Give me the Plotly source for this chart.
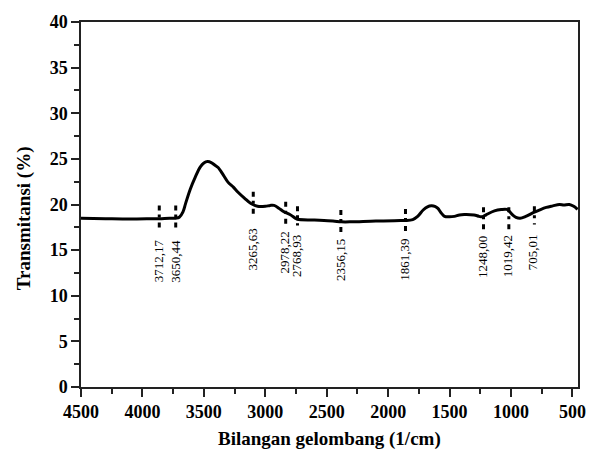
import plotly.graph_objects as go

# FTIR spectrum (wavenumber in 1/cm, transmittance in %)
wavenumber = [4500, 4300, 4100, 3900, 3860, 3780, 3728, 3700, 3670, 3649, 3610, 3570, 3530, 3500,
              3470, 3440, 3410, 3384, 3340, 3304, 3260, 3224, 3170, 3117, 3063, 3000, 2960, 2929,
              2890, 2849, 2800, 2756, 2740, 2600, 2450, 2382, 2300, 2100, 1900, 1861, 1800, 1760,
              1715, 1680, 1648, 1620, 1595, 1570, 1541, 1500, 1461, 1420, 1381, 1301, 1260, 1234,
              1200, 1135, 1080, 1034, 1010, 994, 960, 926, 880, 820, 760, 713, 660, 606, 570, 526,
              490, 459]
transmittance = [18.49, 18.45, 18.42, 18.45, 18.45, 18.5, 18.5, 18.6, 19.2, 20.1, 21.7, 23.0, 24.1, 24.55,
                 24.7, 24.6, 24.3, 24.05, 23.2, 22.45, 21.9, 21.37, 20.7, 20.1, 19.8, 19.8, 19.9, 19.9,
                 19.6, 19.2, 18.9, 18.5, 18.38, 18.3, 18.2, 18.1, 18.1, 18.2, 18.24, 18.25, 18.35, 18.7,
                 19.4, 19.75, 19.86, 19.8, 19.57, 19.1, 18.7, 18.65, 18.7, 18.85, 18.9, 18.85, 18.7, 18.65,
                 18.9, 19.3, 19.45, 19.46, 19.2, 18.95, 18.6, 18.5, 18.7, 19.1, 19.45, 19.68, 19.85, 20.0,
                 19.95, 20.0, 19.8, 19.46]

# Peak annotations
peak_labels = ["3712,17", "3650,44", "3265,63", "2978,22", "2768,93",
               "2356,15", "1861,39", "1248,00", "1019,42", "705,01"]
marker_x = [3863, 3729, 3098, 2834, 2738, 2385, 1859, 1224, 1018, 810]
marker_top = [19.9, 19.9, 21.4, 20.3, 19.8, 19.4, 19.5, 19.7, 19.7, 19.8]
marker_bottom = [17.4, 17.4, 19.0, 17.7, 17.7, 16.8, 17.1, 17.0, 17.0, 17.8]
label_center_y = [13.8, 13.8, 15.1, 14.7, 14.4, 13.9, 14.0, 14.2, 14.3, 14.8]

x_ticks = [4500, 4000, 3500, 3000, 2500, 2000, 1500, 1000, 500]
y_ticks = [0, 5, 10, 15, 20, 25, 30, 35, 40]

serif = "Liberation Serif, Times New Roman, serif"

fig = go.Figure()

for mx, mt, mb in zip(marker_x, marker_top, marker_bottom):
    fig.add_trace(go.Scatter(x=[mx, mx], y=[mt, mb], mode="lines",
                             line=dict(color="black", width=3, dash="5px,4px,3px,5px"),
                             hoverinfo="skip", showlegend=False))

fig.add_trace(go.Scatter(x=wavenumber, y=transmittance, mode="lines",
                         line=dict(color="black", width=3, shape="spline", smoothing=1.0),
                         showlegend=False))

for lab, mx, ly in zip(peak_labels, marker_x, label_center_y):
    fig.add_annotation(x=mx, y=ly, xref="x", yref="y", text=lab, showarrow=False,
                       textangle=-90, xanchor="center", yanchor="middle", xshift=-1,
                       font=dict(family=serif, size=13, color="black"))

fig.add_annotation(x=0.5, y=-0.1425, xref="paper", yref="paper",
                   text="Bilangan gelombang (1/cm)", showarrow=False,
                   xanchor="center", yanchor="middle",
                   font=dict(family=serif, size=19, color="black", weight="bold"))
fig.add_annotation(x=-0.1149, y=0.462, xref="paper", yref="paper",
                   text="Transmitansi (%)", showarrow=False, textangle=-90,
                   xanchor="center", yanchor="middle",
                   font=dict(family=serif, size=19, color="black", weight="bold"))

axis_common = dict(showgrid=False, zeroline=False, showline=True, linecolor="#222",
                   linewidth=1.5, mirror=True, ticks="outside", ticklen=8, tickwidth=1.5,
                   tickcolor="#222",
                   tickfont=dict(family=serif, size=18, color="black", weight="bold"))

fig.update_xaxes(range=[4500, 455], tickvals=x_ticks, ticktext=[str(v) for v in x_ticks],
                 minor=dict(dtick=250, tick0=500, ticks="outside", ticklen=5, tickwidth=1.5,
                            tickcolor="#222"),
                 **axis_common)
fig.update_yaxes(range=[0, 40], tickvals=y_ticks, ticktext=[str(v) for v in y_ticks],
                 minor=dict(dtick=2.5, tick0=0, ticks="outside", ticklen=5, tickwidth=1.5,
                            tickcolor="#222"),
                 **axis_common)

fig.update_layout(width=598, height=455, margin=dict(l=81, r=12, t=15, b=68),
                  plot_bgcolor="white", paper_bgcolor="white")

fig.write_html("out.html")
